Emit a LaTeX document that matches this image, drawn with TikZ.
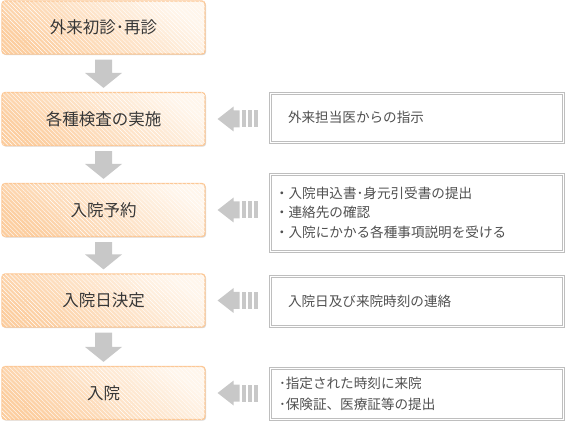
\documentclass[tikz,border=0pt]{standalone}
\usepackage{fontspec}
\setmainfont{Noto Sans CJK JP}
\usetikzlibrary{calc,shadows,patterns.meta}
\definecolor{stepline}{RGB}{252,200,150}
\definecolor{stepdark}{RGB}{252,206,160}
\definecolor{steplight}{RGB}{255,246,236}
\definecolor{arrowgray}{RGB}{200,200,200}
\definecolor{notegray}{RGB}{190,190,190}
\definecolor{textgray}{RGB}{55,55,55}
\definecolor{notetext}{RGB}{80,80,80}
\tikzset{
  stepbox/.style={draw=stepline,line width=1.2pt,rounded corners=3pt,
    minimum width=203pt,minimum height=53pt,
    shading=axis,top color=steplight,bottom color=stepdark,shading angle=-35,
    drop shadow={shadow xshift=1pt,shadow yshift=-1.2pt,opacity=0.3},
    postaction={fill opacity=0.1,pattern={Lines[angle=-45,distance=3pt,line width=0.4pt]},pattern color=white},
    font=\fontsize{16.5}{17}\selectfont,text=textgray},
  notebox/.style={draw=notegray,line width=0.7pt,
    minimum height=#1,inner ysep=0pt,align=left,
    font=\fontsize{13.6}{19.5}\selectfont,text=notetext},
}
% gray block arrow down between two steps
\newcommand\stepdown[2]{%
  \fill[arrowgray] let \p1=(#1.south), \p2=(#2.north) in
    (\x1-8.5pt,\y1-5pt) -- (\x1+8.5pt,\y1-5pt) -- (\x1+8.5pt,\y2+19pt)
    -- (\x1+18.5pt,\y2+19pt) -- (\x1,\y2+4pt) -- (\x1-18.5pt,\y2+19pt)
    -- (\x1-8.5pt,\y2+19pt) -- cycle;}
% gray arrow with bars from a note to its step
\newcommand\noteleft[2]{%
  \fill[arrowgray] let \p1=(#2.east) in
    (\x1+12pt,\y1) -- (\x1+28pt,\y1+12.5pt) -- (\x1+28pt,\y1+8.5pt) -- (\x1+34pt,\y1+8.5pt)
    -- (\x1+34pt,\y1-8.5pt) -- (\x1+28pt,\y1-8.5pt) -- (\x1+28pt,\y1-12.5pt) -- cycle;
  \foreach \bb in {36.5,42.5,48.5}
    {\fill[arrowgray] let \p1=(#2.east) in (\x1+\bb pt,\y1-8.5pt) rectangle ++(3.5pt,17pt);}
  % inner line of the double frame
  \draw[notegray,line width=0.6pt] ($(#1.south west)+(2.4pt,2.4pt)$) rectangle ($(#1.north east)+(-2.4pt,-2.4pt)$);}
\begin{document}
\begin{tikzpicture}[x=1pt,y=-1pt]
  \useasboundingbox (0,0) rectangle (565,430);
  % steps
  \node[stepbox] (visit) at (103.5,27.5) {外来初診･再診};
  \node[stepbox] (exam) at (103.5,119) {各種検査の実施};
  \node[stepbox] (booking) at (103.5,210) {入院予約};
  \node[stepbox] (date) at (103.5,300.5) {入院日決定};
  \node[stepbox] (admit) at (103.5,393) {入院};
  % notes
  \node[notebox=51pt,inner xsep=19pt,text width=257pt] (examnote) at (416.5,117.5) {外来担当医からの指示};
  \node[notebox=79pt,inner xsep=6pt,text width=283pt] (bookingnote) at (416.5,212.5)
    {・入院申込書･身元引受書の提出\\・連絡先の確認\\・入院にかかる各種事項説明を受ける};
  \node[notebox=52pt,inner xsep=19pt,text width=257pt] (datenote) at (416.5,301) {入院日及び来院時刻の連絡};
  \node[notebox=53pt,inner xsep=10pt,text width=275pt,font=\fontsize{13.6}{21}\selectfont] (admitnote) at (416.5,393.5)
    {･指定された時刻に来院\\･保険証、医療証等の提出};
  % arrows
  \stepdown{visit}{exam}
  \stepdown{exam}{booking}
  \stepdown{booking}{date}
  \stepdown{date}{admit}
  \foreach \nn/\ss in {examnote/exam,bookingnote/booking,datenote/date,admitnote/admit}
    {\noteleft{\nn}{\ss}}
\end{tikzpicture}
\end{document}
